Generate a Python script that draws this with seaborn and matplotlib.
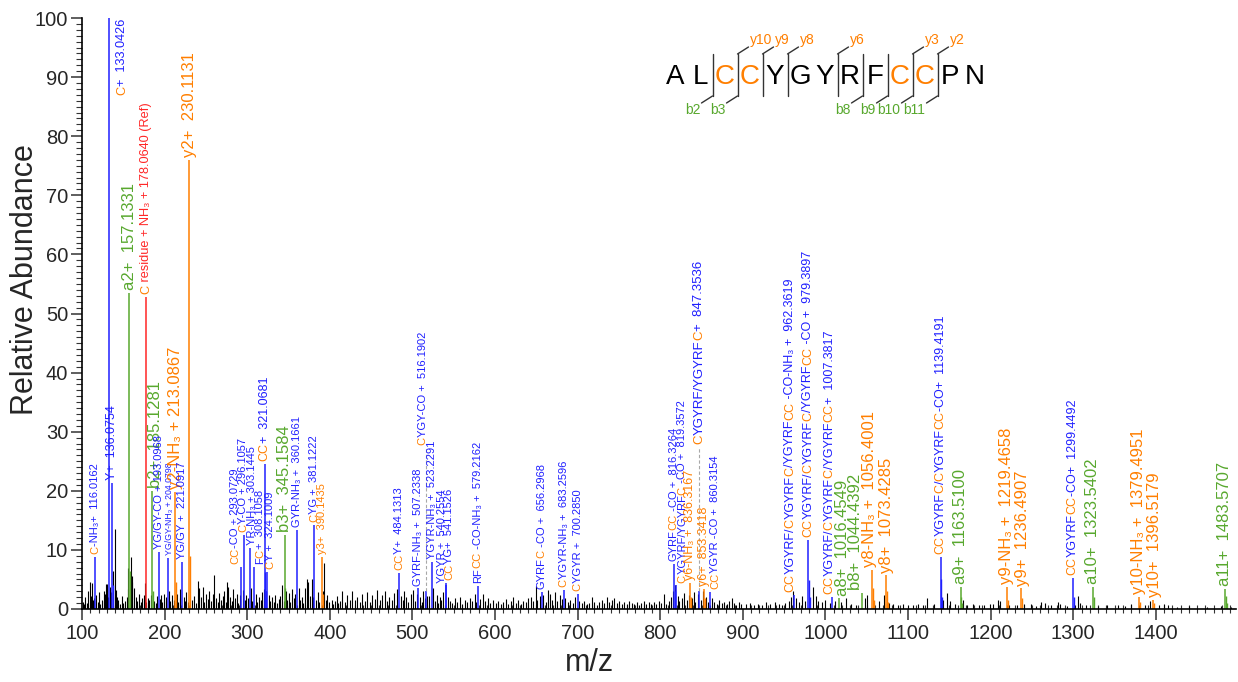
"""Annotated MS/MS spectrum of ALCCYGYRFCCPN with fragment labels."""
import matplotlib
matplotlib.use('Agg')
import matplotlib.pyplot as plt
import seaborn as sns
from matplotlib.ticker import MultipleLocator

# annotated fragment peaks (m/z, relative abundance, ion kind, label)
ion_mz = [116.0162, 133.0426, 136.0754, 157.1331, 178.0640, 185.1281, 193.0968,
          204.0798, 213.0867, 221.0917, 230.1131, 293.0729, 296.1057, 303.1445,
          308.1058, 321.0681, 324.1009, 345.1584, 360.1661, 381.1222, 390.1435,
          484.1313, 507.2338, 516.1902, 523.2291, 540.2554, 541.1526, 579.2162,
          656.2968, 683.2596, 700.2850, 816.3264, 819.3572, 836.3167, 847.3536,
          853.3418, 860.3154, 962.3619, 979.3897, 1007.3817, 1016.4549, 1044.4392,
          1056.4001, 1073.4285, 1139.4191, 1163.5100, 1219.4658, 1236.4907,
          1299.4492, 1323.5402, 1379.4951, 1396.5179, 1483.5707]
ion_int = [8.8, 100.0, 21.3, 53.5, 52.8, 20.0, 9.6,
           8.6, 19.8, 8.0, 76.0, 7.1, 12.5, 10.3,
           7.1, 24.5, 6.3, 12.5, 13.4, 14.2, 8.8,
           6.1, 3.5, 3.0, 8.0, 4.0, 4.4, 3.9,
           2.9, 3.2, 2.5, 7.6, 4.0, 4.4, 3.0,
           3.4, 2.9, 2.4, 11.7, 2.0, 1.8, 2.7,
           6.6, 5.7, 8.8, 3.7, 3.7, 3.5,
           5.2, 3.7, 2.0, 1.5, 3.4]
ion_kind = ['int', 'int', 'int', 'a', 'ref', 'b', 'int',
            'int', 'y', 'int', 'y', 'int', 'int', 'int',
            'int', 'int', 'int', 'b', 'int', 'int', 'y',
            'int', 'int', 'int', 'int', 'int', 'int', 'int',
            'int', 'int', 'int', 'int', 'int', 'y', 'int',
            'y', 'int', 'int', 'int', 'int', 'a', 'b',
            'y', 'y', 'int', 'a', 'y', 'y',
            'int', 'a', 'y', 'y', 'a']
# text inside [ ] is drawn in orange (cysteine residues)
ion_label = ['[C]-NH₃+  116.0162', '[C]+  133.0426', 'Y+  136.0754', 'a2+  157.1331',
             '[C] residue + NH₃ + 178.0640 (Ref)', 'b2+  185.1281', 'YG/GY-CO + 193.0968',
             'YG/GY-NH₃ + 204.0798', 'y2-NH₃ + 213.0867', 'YG/GY +  221.0917',
             'y2+  230.1131', '[CC]-CO + 293.0729', '[C]Y-CO + 296.1057',
             'YR-NH₃ + 303.1445', 'F[C]+  308.1058', '[CC]+  321.0681', '[C]Y +  324.1009',
             'b3+  345.1584', 'GYR-NH₃ +  360.1661', '[C]YG +  381.1222', 'y3+  390.1435',
             '[CC]Y+  484.1313', 'GYRF-NH₃ +  507.2338', '[C]YGY-CO +  516.1902',
             'YGYR-NH₃ +  523.2291', 'YGYR +  540.2554', '[CC]YG+  541.1526',
             'RF[CC] -CO-NH₃ +  579.2162', 'GYRF[C] -CO +  656.2968',
             '[C]YGYR-NH₃ +  683.2596', '[C]YGYR +  700.2850', 'GYRF[CC] -CO +  816.3264',
             '[C]YGYRF/YGYRF[C] -CO +  819.3572', 'y6-NH₃ +  836.3167',
             '[C]YGYRF/YGYRF[C]+  847.3536', 'y6+  853.3418', '[CC]YGYR -CO +  860.3154',
             '[CC]YGYRF/[C]YGYRF[C]/YGYRF[CC] -CO-NH₃ +  962.3619',
             '[CC]YGYRF/[C]YGYRF[C]/YGYRF[CC] -CO +  979.3897',
             '[CC]YGYRF/[C]YGYRF[C]/YGYRF[CC]+  1007.3817', 'a8+  1016.4549',
             'b8+  1044.4392', 'y8-NH₃ +  1056.4001', 'y8+  1073.4285',
             '[CC]YGYRF[C]/[C]YGYRF[CC]-CO+  1139.4191', 'a9+  1163.5100',
             'y9-NH₃ +  1219.4658', 'y9+  1236.4907', '[CC]YGYRF[CC]-CO+  1299.4492',
             'a10+  1323.5402', 'y10-NH₃ +  1379.4951', 'y10+  1396.5179',
             'a11+  1483.5707']

# isotope peaks next to annotated ions
iso_mz = [137.08, 158.13, 186.13, 214.09, 231.12, 322.07, 323.07, 346.16, 391.15,
          817.33, 837.32, 854.34, 980.39, 981.39, 1057.40, 1058.40, 1074.43, 1075.43,
          1140.42, 1141.42, 1164.51, 1165.51, 1220.47, 1237.49, 1300.45, 1324.54,
          1380.50, 1397.52, 1484.57, 1485.57]
iso_int = [4.0, 6.5, 3.0, 4.5, 9.0, 6.3, 3.0, 3.5, 2.5,
           3.0, 2.0, 1.8, 4.9, 2.0, 3.5, 1.5, 3.0, 1.2,
           5.0, 2.0, 2.0, 1.0, 1.5, 1.8, 2.0, 2.0,
           1.2, 1.0, 2.2, 1.0]
iso_kind = ['int', 'a', 'b', 'y', 'y', 'int', 'int', 'b', 'y',
            'int', 'y', 'y', 'int', 'int', 'y', 'y', 'y', 'y',
            'int', 'int', 'a', 'a', 'y', 'y', 'int', 'a',
            'y', 'y', 'a', 'a']

# peaks reported with a dashed leader line up to their label
leader_mz = [516.1902, 847.3536]
leader_top = [27.2, 27.4]

# unassigned peaks
noise_mz = [101.1, 103.0, 104.1, 106.0, 107.1, 110.1, 111.0, 112.1, 113.0, 115.1, 117.1, 119.0,
            120.1, 122.1, 124.0, 126.1, 127.1, 128.1, 129.1, 130.1, 131.0, 134.0, 135.1, 138.1,
            139.5, 141.1, 142.1, 144.1, 146.1, 148.1, 150.1, 152.1, 154.1, 155.1, 156.1, 159.1,
            160.1, 161.1, 163.1, 165.1, 167.1, 169.1, 171.1, 173.1, 175.1, 176.1, 177.1, 180.1,
            181.1, 183.1, 186.9, 189.1, 191.1, 194.1, 195.1, 197.1, 199.1,
            201.1, 202.1, 205.1, 207.1, 209.1, 211.1, 214.9, 216.1, 218.1, 219.1, 222.9, 224.1,
            226.1, 228.1, 233.1, 236.1, 238.1, 240.1, 242.1, 244.1, 246.1, 248.1, 250.1, 252.1,
            254.1, 256.1, 258.1, 260.1, 262.1, 264.1, 266.1, 268.1, 270.1, 272.1, 274.1, 276.1,
            277.1, 279.1, 281.1, 283.1, 285.1, 287.1, 289.1, 291.1, 294.9, 297.1, 299.1,
            301.1, 305.1, 306.1, 310.1, 312.1, 314.1, 316.1, 318.1, 320.1, 322.9, 326.1, 328.1,
            330.1, 332.1, 334.1, 336.1, 338.1, 340.1, 342.1, 344.1, 347.1, 348.1, 350.1, 352.1,
            354.1, 356.1, 358.1, 362.1, 364.1, 366.1, 368.1, 370.1, 372.1, 374.1, 376.1, 378.1,
            380.1, 383.1, 385.1, 387.1, 392.1, 393.1, 395.1, 397.1, 399.1,
            402.2, 404.2, 406.2, 408.2, 410.2, 412.2, 415.2, 418.2, 421.2, 424.2, 427.2, 430.2,
            433.2, 436.2, 439.2, 442.2, 445.2, 448.2, 451.2, 454.2, 457.2, 460.2, 463.2, 466.2,
            469.2, 472.2, 475.2, 478.2, 481.2, 486.2, 488.2, 490.2, 492.2, 495.2, 498.2,
            501.2, 503.2, 505.2, 509.2, 511.2, 513.2, 515.2, 518.2, 520.2, 525.2, 527.2, 529.2,
            531.2, 533.2, 535.2, 537.2, 543.2, 545.2, 548.2, 551.2, 554.2, 557.2, 560.2, 563.2,
            566.2, 569.2, 572.2, 575.2, 577.2, 582.2, 585.2, 588.2, 591.2, 594.2, 597.2,
            601.2, 604.2, 607.2, 610.2, 613.2, 616.2, 619.2, 622.2, 625.2, 628.2, 631.2, 634.2,
            637.2, 640.2, 643.2, 646.2, 649.2, 651.2, 654.2, 658.2, 661.2, 664.2, 666.2, 669.2,
            672.2, 675.2, 678.2, 681.2, 685.2, 688.2, 691.2, 694.2, 697.2, 702.2,
            705.3, 708.3, 711.3, 714.3, 717.3, 720.3, 723.3, 726.3, 729.3, 732.3, 735.3, 738.3,
            741.3, 744.3, 747.3, 750.3, 753.3, 756.3, 759.3, 762.3, 765.3, 768.3, 771.3, 774.3,
            777.3, 780.3, 783.3, 786.3, 789.3, 792.3, 795.3, 798.3,
            801.3, 804.3, 807.3, 810.3, 813.3, 815.3, 818.3, 821.3, 823.3, 826.3, 829.3, 832.3,
            834.3, 838.3, 840.3, 842.3, 845.3, 849.3, 851.3, 855.3, 857.3, 862.3, 865.3, 868.3,
            871.3, 874.3, 877.3, 880.3, 883.3, 886.3, 889.3, 892.3, 895.3, 898.3,
            903.4, 908.4, 913.4, 918.4, 923.4, 928.4, 933.4, 938.4, 943.4, 947.4, 951.4, 955.4,
            958.4, 960.4, 964.4, 967.4, 971.4, 975.4, 985.4, 988.4, 991.4, 995.4, 999.4,
            1005.4, 1011.4, 1019.4, 1025.4, 1031.4, 1037.4, 1047.4, 1050.4, 1058.9, 1065.4,
            1070.4, 1076.4, 1081.4, 1088.4, 1094.4, 1099.4,
            1105.4, 1112.4, 1118.4, 1123.4, 1131.4, 1142.4, 1147.4, 1150.4, 1157.4, 1166.4,
            1171.4, 1178.4, 1185.4, 1192.4, 1199.4,
            1203.4, 1208.4, 1211.4, 1222.4, 1231.4, 1240.4, 1248.4, 1255.4, 1261.4, 1265.4,
            1273.4, 1281.4, 1284.4, 1292.4, 1302.4, 1305.4, 1308.4,
            1315.4, 1330.4, 1341.4, 1354.4, 1362.4, 1369.4, 1386.4, 1393.4, 1403.4, 1410.4,
            1414.4, 1425.4, 1440.4, 1461.4, 1478.4, 1490.4]
noise_int = [1.2, 0.8, 2.0, 1.0, 3.1, 4.5, 2.2, 4.4, 1.5, 1.8, 2.4, 1.1,
             2.8, 0.9, 1.6, 1.3, 3.0, 2.6, 4.2, 4.3, 2.0, 3.8, 2.9, 6.5,
             13.5, 3.2, 2.0, 1.5, 0.9, 2.2, 1.0, 1.4, 2.0, 3.3, 7.0, 8.8,
             5.5, 4.5, 3.5, 2.1, 1.3, 2.5, 1.1, 1.8, 2.4, 4.4, 1.2, 1.9,
             1.5, 2.3, 1.4, 1.0, 2.2, 1.7, 2.4, 1.1, 2.6,
             1.3, 2.0, 3.1, 1.4, 2.3, 1.6, 2.5, 1.2, 1.9, 3.4, 2.0, 1.4,
             2.8, 1.1, 1.5, 2.2, 1.0, 4.8, 3.5, 2.1, 3.8, 1.2, 2.6, 1.7,
             3.0, 1.3, 2.5, 5.7, 1.9, 1.2, 2.7, 1.5, 2.2, 3.0, 1.1, 4.6,
             3.8, 2.0, 1.4, 3.3, 1.8, 2.6, 1.0, 2.3, 3.2, 1.6, 2.4,
             1.8, 3.6, 1.3, 2.5, 1.2, 2.0, 1.5, 2.9, 3.4, 3.0, 2.3, 1.4,
             2.0, 1.2, 2.4, 1.0, 1.7, 2.2, 4.1, 1.3, 3.0, 1.6, 2.7, 1.1,
             3.4, 1.9, 2.5, 3.6, 1.5, 2.1, 1.0, 3.5, 5.0, 4.6, 2.2, 5.0,
             2.0, 1.6, 2.8, 1.2, 3.0, 7.8, 1.5, 2.3, 1.1,
             1.6, 0.9, 1.4, 2.2, 1.0, 1.3, 3.0, 1.2, 2.4, 1.6, 3.1, 1.5,
             2.0, 1.1, 2.6, 1.4, 2.9, 1.2, 2.3, 1.7, 3.2, 1.5, 2.4, 3.0,
             1.3, 2.1, 1.6, 2.7, 3.4, 2.2, 1.5, 3.0, 2.0, 1.2, 2.5,
             3.2, 1.4, 2.6, 2.0, 1.2, 3.0, 1.8, 2.2, 2.2, 3.6, 1.3, 2.4,
             1.0, 2.0, 1.5, 2.8, 2.1, 1.3, 1.0, 1.8, 1.2, 2.0, 0.9, 1.6,
             1.1, 1.9, 1.4, 2.5, 1.1, 1.7, 2.6, 1.3, 1.9, 1.0, 1.5,
             1.0, 1.4, 0.8, 1.2, 1.7, 0.9, 1.3, 2.1, 1.0, 1.6, 0.8, 1.4,
             1.1, 1.8, 2.0, 1.3, 3.9, 1.6, 2.2, 2.4, 1.2, 3.2, 2.6, 1.5,
             2.9, 1.3, 2.4, 1.7, 1.9, 1.2, 1.6, 1.0, 2.1, 1.4,
             1.0, 1.3, 0.8, 1.0, 2.0, 1.1, 0.7, 1.2, 1.6, 1.0, 2.0, 1.2,
             1.5, 1.9, 1.0, 1.4, 0.8, 1.2, 0.9, 1.3, 1.0, 0.8, 1.1, 0.7,
             1.0, 1.3, 0.8, 1.1, 0.9, 1.2, 0.8, 1.4,
             1.0, 2.6, 0.9, 1.3, 2.0, 3.0, 4.0, 2.2, 1.3, 1.9, 2.7, 1.5,
             2.4, 1.8, 2.9, 1.2, 2.5, 1.6, 3.0, 2.0, 1.1, 1.8, 1.2, 0.9,
             1.5, 1.0, 1.2, 0.8, 1.4, 1.8, 1.0, 0.7, 1.1, 0.9,
             0.8, 1.0, 0.6, 0.9, 0.7, 1.1, 0.8, 1.2, 0.9, 0.7, 1.0, 1.3,
             2.1, 3.1, 1.8, 1.2, 2.2, 1.4, 3.7, 2.2, 1.4, 1.1, 1.6,
             1.0, 1.3, 1.1, 1.8, 0.9, 0.7, 1.9, 2.4, 1.0, 1.4,
             2.3, 1.0, 0.8, 0.7, 0.9, 0.6,
             0.7, 0.9, 0.6, 1.8, 0.8, 1.5, 2.7, 1.4, 0.8, 1.5,
             0.6, 0.9, 0.7, 0.6, 0.9,
             0.8, 1.6, 1.4, 0.7, 0.6, 0.9, 0.8, 0.5, 1.1, 1.0,
             0.6, 1.1, 0.9, 0.5, 0.7, 2.2, 1.0,
             0.6, 0.5, 0.6, 0.7, 0.5, 0.9, 0.6, 1.4, 0.7, 0.8,
             0.7, 0.4, 0.5, 0.4, 0.5, 0.4]

# peptide sequence and observed cleavage sites
sequence = 'ALCCYGYRFCCPN'
b_ions = [2, 3, 8, 9, 10, 11]
y_ions = [10, 9, 8, 6, 3, 2]

# ---- styling ----
BLUE = '#1f1fff'
ORANGE = '#ff7f00'
GREEN = '#58a82e'
RED = '#ff2626'
kind_color = {'int': BLUE, 'a': GREEN, 'b': GREEN, 'y': ORANGE, 'ref': RED}

# label font size per annotated ion (pt)
label_pt = [8, 9.2, 9, 12, 9.2, 12, 8,
            6.3, 12, 8, 12, 8, 8, 8,
            8, 9, 8, 12, 8, 8, 8,
            8, 8, 8, 8, 8, 8, 8,
            8, 8, 8, 8, 8, 9, 9.5,
            9, 8, 9, 9, 9, 12, 12,
            12, 12, 9, 12, 12, 12,
            9, 12, 12, 12, 12]
# labels that are not drawn straight above their peak
label_anchor = {133.0426: (148.5, 86.5)}
# sideways nudges (pixels) used to keep crowded labels apart
label_nudge = {185.1281: 3, 204.0798: 2, 293.0729: -6, 296.1057: -1, 303.1445: 2,
               308.1058: 6, 324.1009: 3, 516.1902: -3, 540.2554: -4, 541.1526: 3,
               819.3572: 6, 860.3154: 5, 962.3619: -4, 1007.3817: -2, 1016.4549: 3,
               1044.4392: -7, 1056.4001: -3, 1236.4907: 2, 1396.5179: 2}


def draw_label(ax, x, y, text, base, size, nudge=0, gap=2):
    """Draw a rotated label made of coloured pieces stacked upwards."""
    prev = None
    for i, part in enumerate(text.replace(']', '[').split('[')):
        if not part:
            continue
        kw = dict(rotation=90, ha='center', va='bottom', fontsize=size,
                  color=ORANGE if i % 2 else base, annotation_clip=False)
        if prev is None:
            prev = ax.annotate(part, xy=(x, y), xytext=(nudge * 0.72, gap),
                               textcoords='offset points', **kw)
        else:
            prev = ax.annotate(part, xy=(0.5, 1.0), xycoords=prev, **kw)


sns.set_theme(style='ticks')
plt.rcParams['font.family'] = ['Liberation Sans', 'DejaVu Sans']

fig = plt.figure(figsize=(12.38, 6.82), dpi=100)
ax = fig.add_axes([82 / 1238, 73 / 682, 1154 / 1238, 591 / 682])

ax.vlines(noise_mz, 0, noise_int, colors='black', lw=0.8)
ax.vlines(iso_mz, 0, iso_int, colors=[kind_color[k] for k in iso_kind], lw=1.0)
ax.vlines(ion_mz, 0, ion_int, colors=[kind_color[k] for k in ion_kind], lw=1.1)

# dashed leaders
lead_base = [ion_int[ion_mz.index(m)] for m in leader_mz]
ax.vlines(leader_mz, lead_base, leader_top, colors='#a8a8a8',
          linestyles=(0, (3, 2)), lw=0.8)

for mz, inten, kind, text, size in zip(ion_mz, ion_int, ion_kind, ion_label, label_pt):
    x, y = mz, inten
    if mz in leader_mz:
        y = leader_top[leader_mz.index(mz)]
    if mz in label_anchor:
        x, y = label_anchor[mz]
    draw_label(ax, x, y, text, kind_color[kind], size, label_nudge.get(mz, 0))

ax.set_xlim(100, 1497)
ax.set_ylim(0, 100)
ax.xaxis.set_major_locator(MultipleLocator(100))
ax.xaxis.set_minor_locator(MultipleLocator(10))
ax.yaxis.set_major_locator(MultipleLocator(10))
ax.yaxis.set_minor_locator(MultipleLocator(1))
ax.tick_params(axis='x', which='major', direction='out', length=8, width=1.1,
               labelsize=14.5, pad=3, color='#333333')
ax.tick_params(axis='x', which='minor', direction='inout', length=6, width=0.8,
               color='#333333')
ax.tick_params(axis='y', which='major', direction='out', length=8, width=1.1,
               labelsize=14.5, pad=2, color='#333333')
ax.tick_params(axis='y', which='minor', direction='out', length=4, width=0.8,
               color='#333333')
sns.despine(ax=ax)
for s in ['left', 'bottom']:
    ax.spines[s].set_linewidth(1.2)
    ax.spines[s].set_color('black')

ax.set_xlabel('m/z', fontsize=22)
ax.set_ylabel('Relative Abundance', fontsize=22)
ax.xaxis.set_label_coords(0.44, -0.066)
ax.yaxis.set_label_coords(-0.036, 0.557)

# sequence coverage map, drawn in pixel coordinates
seq_ax = fig.add_axes([0, 0, 1, 1])
seq_ax.set_xlim(0, 1238)
seq_ax.set_ylim(682, 0)
seq_ax.axis('off')
seq_ax.patch.set_alpha(0)

x0, step = 675, 25
for i, aa in enumerate(sequence):
    seq_ax.text(x0 + step * i, 77, aa, fontsize=20, ha='center', va='center',
                color=ORANGE if aa == 'C' else 'black')

y_sites = [len(sequence) - n for n in y_ions]
for site in sorted(set(b_ions) | set(y_sites)):
    xc = x0 + step * (site - 0.5)
    seq_ax.plot([xc, xc], [54, 96], color='#333333', lw=1.0)
    if site in b_ions:
        seq_ax.plot([xc, xc - 11], [96, 103], color='#333333', lw=1.0)
        seq_ax.text(xc - 12, 110, f'b{site}', fontsize=10, color=GREEN,
                    ha='right', va='center')
    if site in y_sites:
        seq_ax.plot([xc, xc + 11], [54, 47], color='#333333', lw=1.0)
        seq_ax.text(xc + 12, 40, f'y{len(sequence) - site}', fontsize=10,
                    color=ORANGE, ha='left', va='center')

fig.savefig('out.png', dpi=100)
plt.close(fig)
